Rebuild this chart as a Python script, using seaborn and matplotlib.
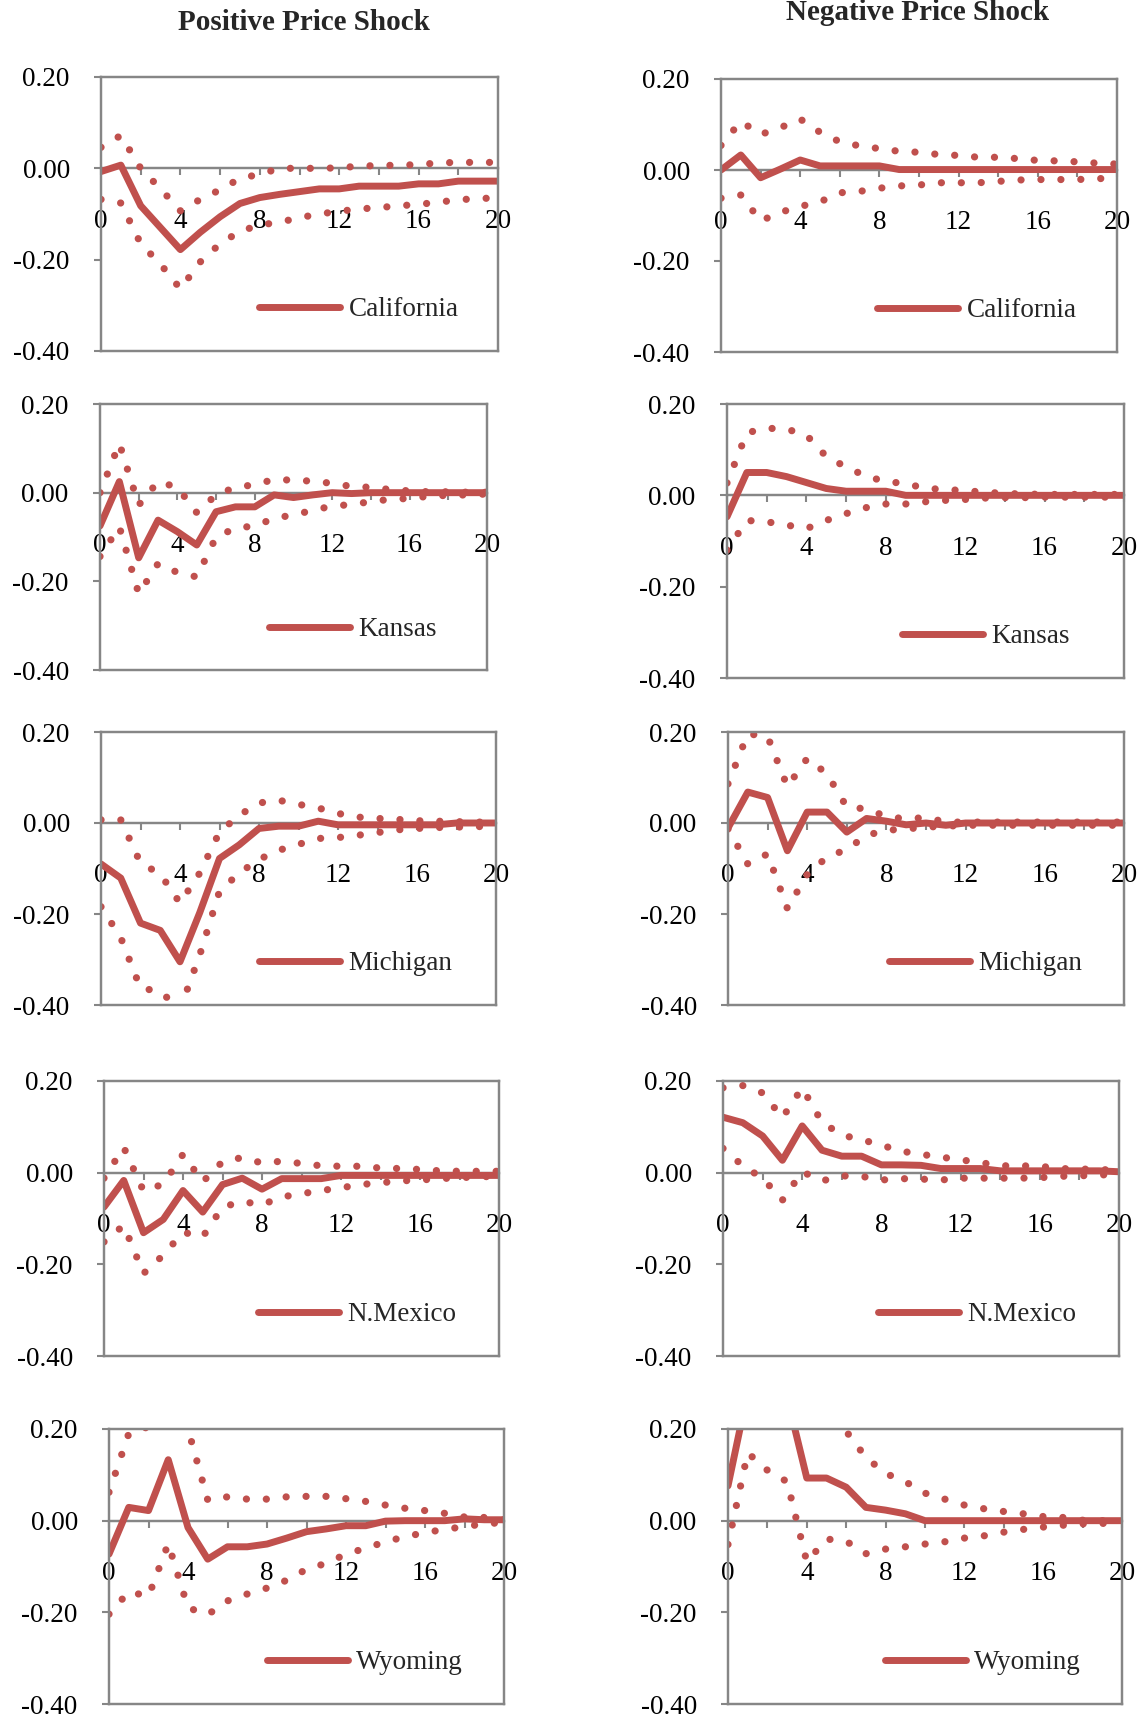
import matplotlib
matplotlib.use("Agg")
import pandas as pd
import matplotlib.pyplot as plt
import seaborn as sns

# Horizon steps
steps = list(range(21))

# California
ca_pos_irf = [-0.007, 0.007, -0.082, -0.13, -0.178, -0.14, -0.106, -0.077, -0.064, -0.057, -0.051,
              -0.045, -0.045, -0.039, -0.039, -0.039, -0.034, -0.034, -0.028, -0.028, -0.028]
ca_pos_hi = [0.046, 0.072, 0.0, -0.045, -0.093, -0.068, -0.047, -0.022, -0.013, 0.0, 0.0,
             0.0, 0.001, 0.005, 0.006, 0.007, 0.008, 0.012, 0.013, 0.013, 0.013]
ca_pos_lo = [-0.068, -0.076, -0.165, -0.21, -0.264, -0.205, -0.165, -0.138, -0.124, -0.118, -0.108,
             -0.1, -0.094, -0.089, -0.086, -0.082, -0.079, -0.074, -0.069, -0.066, -0.065]
ca_neg_irf = [0.0, 0.033, -0.017, 0.002, 0.022, 0.009, 0.009, 0.009, 0.009, 0.001, 0.001,
              0.001, 0.001, 0.001, 0.001, 0.001, 0.001, 0.001, 0.001, 0.001, 0.001]
ca_neg_hi = [0.054, 0.107, 0.078, 0.093, 0.112, 0.083, 0.062, 0.053, 0.047, 0.041, 0.039,
             0.034, 0.032, 0.028, 0.028, 0.025, 0.021, 0.02, 0.018, 0.015, 0.013]
ca_neg_lo = [-0.062, -0.055, -0.112, -0.093, -0.08, -0.07, -0.05, -0.047, -0.04, -0.035, -0.033,
             -0.028, -0.028, -0.028, -0.025, -0.022, -0.021, -0.021, -0.021, -0.019, -0.018]

# Kansas
ks_pos_irf = [-0.075, 0.025, -0.147, -0.062, -0.088, -0.118, -0.043, -0.032, -0.032, -0.005, -0.011,
              -0.005, 0.0, -0.002, 0.0, 0.0, 0.0, 0.0, 0.0, 0.0, 0.0]
ks_pos_hi = [0.0, 0.111, -0.028, 0.025, 0.012, -0.045, -0.005, 0.012, 0.018, 0.03, 0.028,
             0.026, 0.021, 0.014, 0.012, 0.007, 0.004, 0.002, 0.002, 0.001, 0.001]
ks_pos_lo = [-0.144, -0.077, -0.228, -0.16, -0.18, -0.19, -0.1, -0.08, -0.075, -0.058, -0.05,
             -0.04, -0.03, -0.027, -0.02, -0.015, -0.013, -0.008, -0.006, -0.005, -0.003]
ks_neg_irf = [-0.047, 0.05, 0.05, 0.041, 0.028, 0.015, 0.009, 0.009, 0.009, 0.0, 0.0,
              0.0, 0.0, 0.0, 0.0, 0.0, 0.0, 0.0, 0.0, 0.0, 0.0]
ks_neg_hi = [0.027, 0.137, 0.147, 0.145, 0.132, 0.085, 0.062, 0.042, 0.03, 0.026, 0.015,
             0.013, 0.01, 0.007, 0.004, 0.003, 0.002, 0.002, 0.002, 0.002, 0.002]
ks_neg_lo = [-0.12, -0.055, -0.058, -0.065, -0.073, -0.055, -0.04, -0.027, -0.019, -0.019, -0.014,
             -0.011, -0.009, -0.006, -0.005, -0.005, -0.004, -0.004, -0.004, -0.004, -0.003]

# Michigan
mi_pos_irf = [-0.09, -0.121, -0.22, -0.236, -0.305, -0.197, -0.078, -0.048, -0.012, -0.007, -0.007,
              0.004, -0.004, -0.004, -0.004, -0.004, -0.004, -0.004, 0.0, 0.0, 0.0]
mi_pos_hi = [0.007, 0.007, -0.088, -0.112, -0.176, -0.11, -0.02, 0.017, 0.044, 0.05, 0.041,
             0.033, 0.021, 0.013, 0.01, 0.008, 0.005, 0.004, 0.003, 0.002, 0.002]
mi_pos_lo = [-0.184, -0.252, -0.363, -0.37, -0.41, -0.29, -0.15, -0.11, -0.08, -0.06, -0.047,
             -0.034, -0.032, -0.027, -0.021, -0.015, -0.012, -0.01, -0.009, -0.008, -0.007]
mi_neg_irf = [-0.011, 0.068, 0.056, -0.061, 0.024, 0.024, -0.02, 0.01, 0.004, -0.004, 0.0,
              -0.005, 0.0, 0.0, 0.0, 0.0, 0.0, 0.0, 0.0, 0.0, 0.0]
mi_neg_hi = [0.086, 0.196, 0.19, 0.08, 0.142, 0.108, 0.035, 0.031, 0.014, 0.009, 0.012,
             0.002, 0.002, 0.002, 0.002, 0.002, 0.002, 0.002, 0.002, 0.002, 0.002]
mi_neg_lo = [-0.013, -0.09, -0.068, -0.188, -0.113, -0.075, -0.058, -0.027, -0.016, -0.013, -0.009,
             -0.007, -0.005, -0.005, -0.005, -0.005, -0.005, -0.005, -0.005, -0.005, -0.005]

# New Mexico
nm_pos_irf = [-0.075, -0.017, -0.131, -0.102, -0.039, -0.086, -0.026, -0.012, -0.036, -0.013, -0.013,
              -0.013, -0.006, -0.006, -0.006, -0.006, -0.006, -0.006, -0.006, -0.006, -0.006]
nm_pos_hi = [-0.012, 0.055, -0.04, -0.025, 0.04, -0.02, 0.024, 0.033, 0.021, 0.025, 0.02,
             0.015, 0.014, 0.014, 0.01, 0.009, 0.007, 0.004, 0.003, 0.003, 0.003]
nm_pos_lo = [-0.151, -0.115, -0.22, -0.18, -0.13, -0.14, -0.075, -0.063, -0.07, -0.053, -0.046,
             -0.039, -0.033, -0.026, -0.022, -0.018, -0.016, -0.013, -0.011, -0.009, -0.008]
nm_neg_irf = [0.121, 0.109, 0.08, 0.027, 0.102, 0.049, 0.036, 0.036, 0.017, 0.017, 0.016,
              0.009, 0.009, 0.009, 0.004, 0.004, 0.004, 0.004, 0.004, 0.004, 0.002]
nm_neg_hi = [0.185, 0.19, 0.174, 0.12, 0.185, 0.11, 0.082, 0.072, 0.06, 0.047, 0.04,
             0.034, 0.028, 0.022, 0.015, 0.015, 0.014, 0.009, 0.008, 0.007, 0.005]
nm_neg_lo = [0.053, 0.015, -0.012, -0.06, 0.002, -0.018, -0.007, -0.008, -0.016, -0.013, -0.014,
             -0.016, -0.012, -0.012, -0.012, -0.012, -0.011, -0.008, -0.007, -0.005, -0.004]

# Wyoming
wy_pos_irf = [-0.073, 0.029, 0.022, 0.133, -0.015, -0.084, -0.057, -0.057, -0.051, -0.038, -0.024,
              -0.018, -0.011, -0.011, -0.001, 0.0, 0.0, 0.0, 0.004, 0.002, 0.002]
wy_pos_hi = [0.062, 0.19, 0.205, 0.33, 0.2, 0.045, 0.052, 0.047, 0.047, 0.052, 0.053,
             0.053, 0.048, 0.042, 0.034, 0.027, 0.022, 0.016, 0.008, 0.007, 0.002]
wy_pos_lo = [-0.204, -0.155, -0.165, -0.05, -0.19, -0.205, -0.175, -0.16, -0.147, -0.13, -0.106,
             -0.093, -0.073, -0.06, -0.046, -0.035, -0.026, -0.019, -0.013, -0.007, -0.004]
wy_neg_irf = [0.076, 0.28, 0.3, 0.27, 0.093, 0.093, 0.073, 0.029, 0.023, 0.015, 0.0,
              0.0, 0.0, 0.0, 0.0, 0.0, 0.0, 0.0, 0.0, 0.0, 0.0]
wy_neg_hi = [0.21, 0.45, 0.5, 0.5, 0.45, 0.3, 0.195, 0.138, 0.103, 0.085, 0.06,
             0.047, 0.034, 0.026, 0.02, 0.015, 0.009, 0.007, 0.001, 0.0, 0.0]
wy_neg_lo = [-0.052, 0.148, 0.11, 0.085, -0.09, -0.04, -0.045, -0.072, -0.062, -0.057, -0.051,
             -0.046, -0.038, -0.033, -0.025, -0.019, -0.014, -0.01, -0.007, -0.006, -0.005]

states = ["California", "Kansas", "Michigan", "N.Mexico", "Wyoming"]
col_titles = ["Positive Price Shock", "Negative Price Shock"]
x_major = [0, 4, 8, 12, 16, 20]
x_minor = [2, 6, 10, 14, 18]
x_tick_labels = ["0", "4", "8", "12", "16", "20"]
y_ticks = [-0.4, -0.2, 0.0, 0.2]
y_tick_labels = ["-0.40", "-0.20", "0.00", "0.20"]

panels = [
    [(ca_pos_irf, ca_pos_lo, ca_pos_hi), (ca_neg_irf, ca_neg_lo, ca_neg_hi)],
    [(ks_pos_irf, ks_pos_lo, ks_pos_hi), (ks_neg_irf, ks_neg_lo, ks_neg_hi)],
    [(mi_pos_irf, mi_pos_lo, mi_pos_hi), (mi_neg_irf, mi_neg_lo, mi_neg_hi)],
    [(nm_pos_irf, nm_pos_lo, nm_pos_hi), (nm_neg_irf, nm_neg_lo, nm_neg_hi)],
    [(wy_pos_irf, wy_pos_lo, wy_pos_hi), (wy_neg_irf, wy_neg_lo, wy_neg_hi)],
]

# plot boxes in pixels: left, top, right, bottom
boxes = [
    [(101, 77, 498, 351), (721, 79, 1117, 352)],
    [(100, 404, 487, 670), (727, 404, 1124, 678)],
    [(101, 732, 496, 1005), (728, 732, 1124, 1005)],
    [(104, 1081, 499, 1356), (723, 1081, 1119, 1356)],
    [(109, 1429, 504, 1704), (728, 1429, 1122, 1704)],
]
# legend start (px from left spine)
legend_x = [[158, 156], [169, 175], [158, 161], [154, 155], [158, 157]]

RED = "#C0504D"
GREY = "#868686"
FS = 19.5
W, H = 1145, 1722

sns.set_theme(style="white")
plt.rcParams["font.family"] = ["Liberation Serif", "DejaVu Serif"]
plt.rcParams["axes.unicode_minus"] = False

fig = plt.figure(figsize=(W / 100, H / 100), dpi=100)

for r, state in enumerate(states):
    for c in range(2):
        irf, lo, hi = panels[r][c]
        l, t, rr, b = boxes[r][c]
        ax = fig.add_axes([l / W, 1 - b / H, (rr - l) / W, (b - t) / H])
        df = pd.DataFrame({"step": steps, "irf": irf, "lo": lo, "hi": hi})

        sns.lineplot(data=df, x="step", y="irf", ax=ax, color=RED, lw=5,
                     estimator=None, errorbar=None, legend=False,
                     solid_capstyle="round", solid_joinstyle="round")
        main_line = ax.lines[-1]
        for col in ["hi", "lo"]:
            sns.lineplot(data=df, x="step", y=col, ax=ax, color=RED, lw=5.2,
                         estimator=None, errorbar=None, legend=False,
                         linestyle=(0, (0.01, 2.75)), dash_capstyle="round")

        ax.set_xlim(0, 20)
        ax.set_ylim(-0.4, 0.2)
        ax.set_xlabel("")
        ax.set_ylabel("")
        ax.set_yticks(y_ticks)
        ax.set_yticklabels(y_tick_labels)
        ax.tick_params(axis="y", left=True, direction="out", length=5, width=1.5,
                       color=GREY, pad=17.5, labelsize=FS, labelcolor="black")
        ax.tick_params(axis="x", bottom=False, labelbottom=False)
        for sp in ax.spines.values():
            sp.set_visible(True)
            sp.set_color(GREY)
            sp.set_linewidth(1.75)

        # category axis crossing at zero
        sec = ax.secondary_xaxis(0, transform=ax.transData)
        sec.set_xticks(x_major)
        sec.set_xticklabels(x_tick_labels)
        sec.set_xticks(x_minor, minor=True)
        sec.tick_params(which="both", bottom=True, direction="out", length=5, width=1.5,
                        color=GREY, pad=24, labelsize=FS, labelcolor="black")
        sec.spines["bottom"].set_color(GREY)
        sec.spines["bottom"].set_linewidth(1.75)

        ax.legend(handles=[main_line], labels=[state], loc="lower left",
                  bbox_to_anchor=(legend_x[r][c] / (rr - l), 0.105), frameon=False,
                  fontsize=FS, handlelength=3.0, handletextpad=0.3,
                  borderpad=0, borderaxespad=0)

fig.text(304 / W, 1 - 23 / H, col_titles[0], ha="center", va="center",
         fontsize=21, fontweight="bold")
fig.text(918 / W, 1 - 13 / H, col_titles[1], ha="center", va="center",
         fontsize=21, fontweight="bold")

fig.savefig("out.png", dpi=100)
